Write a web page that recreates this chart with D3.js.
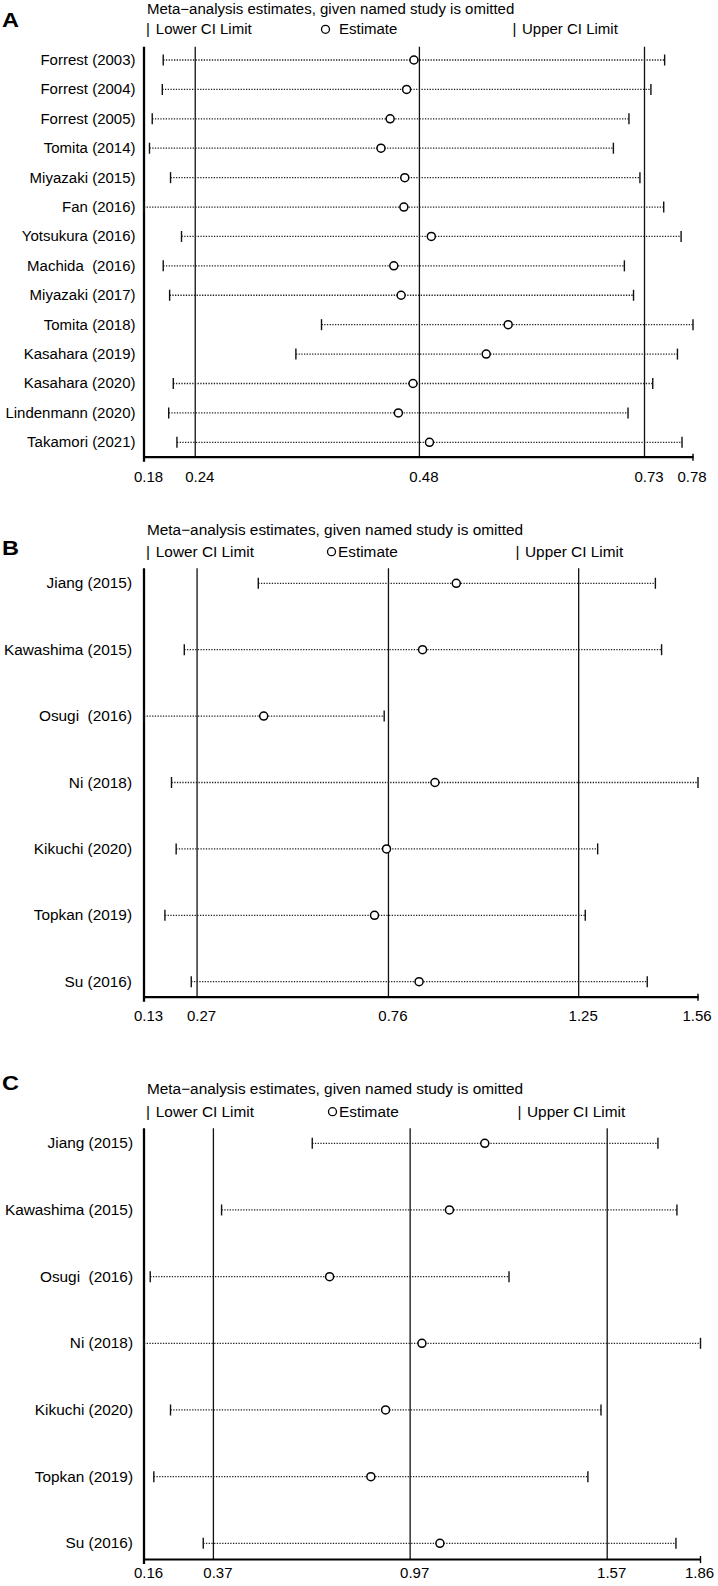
<!DOCTYPE html>
<html>
<head>
<meta charset="utf-8">
<script src="https://cdn.jsdelivr.net/npm/d3@7"></script>
<style>
body { margin: 0; background: #fff; }
text { font-family: "Liberation Sans", Arial, sans-serif; fill: #000; white-space: pre; }
</style>
</head>
<body>
<script>
// ---- data ----
const studiesA = ['Forrest (2003)', 'Forrest (2004)', 'Forrest (2005)', 'Tomita (2014)', 'Miyazaki (2015)',
    'Fan (2016)', 'Yotsukura (2016)', 'Machida  (2016)', 'Miyazaki (2017)', 'Tomita (2018)',
    'Kasahara (2019)', 'Kasahara (2020)', 'Lindenmann (2020)', 'Takamori (2021)'];
const estA   = [0.475, 0.467, 0.449, 0.439, 0.465, 0.464, 0.494, 0.453, 0.461, 0.578, 0.554, 0.474, 0.458, 0.492];
const lowerA = [0.201, 0.200, 0.189, 0.186, 0.209, 0.180, 0.221, 0.201, 0.208, 0.374, 0.346, 0.212, 0.207, 0.216];
const upperA = [0.749, 0.734, 0.710, 0.693, 0.722, 0.748, 0.767, 0.705, 0.715, 0.780, 0.763, 0.736, 0.709, 0.768];
const ticksA = [0.18, 0.236, 0.481, 0.727, 0.78];
const tickLabelsA = ['0.18', '0.24', '0.48', '0.73', '0.78'];

const studiesB = ['Jiang (2015)', 'Kawashima (2015)', 'Osugi  (2016)', 'Ni (2018)', 'Kikuchi (2020)', 'Topkan (2019)', 'Su (2016)'];
const estB   = [0.936, 0.849, 0.439, 0.881, 0.756, 0.725, 0.840];
const lowerB = [0.425, 0.234, 0.130, 0.201, 0.213, 0.184, 0.252];
const upperB = [1.450, 1.466, 0.750, 1.560, 1.301, 1.269, 1.429];
const ticksB = [0.13, 0.267, 0.761, 1.252, 1.56];
const tickLabelsB = ['0.13', '0.27', '0.76', '1.25', '1.56'];

const studiesC = ['Jiang (2015)', 'Kawashima (2015)', 'Osugi  (2016)', 'Ni (2018)', 'Kikuchi (2020)', 'Topkan (2019)', 'Su (2016)'];
const estC   = [1.201, 1.093, 0.727, 1.009, 0.898, 0.853, 1.064];
const lowerC = [0.674, 0.397, 0.179, 0.160, 0.241, 0.190, 0.341];
const upperC = [1.730, 1.788, 1.275, 1.860, 1.556, 1.516, 1.785];
const ticksC = [0.16, 0.372, 0.973, 1.575, 1.86];
const tickLabelsC = ['0.16', '0.37', '0.97', '1.57', '1.86'];

const title = 'Meta\u2212analysis estimates, given named study is omitted';

const width = 718;
const height = 1586;

const svg = d3.select('body')
    .append('svg')
    .attr('width', width)
    .attr('height', height);

// text that is a little wider than the font (the figure was stretched)
const stretchText = (parent, x, y, str, size, sx, anchor, weight) =>
    parent.append('text')
        .attr('transform', `translate(${x},${y}) scale(${sx},1)`)
        .attr('text-anchor', anchor || 'start')
        .style('font-size', size + 'px')
        .style('font-weight', weight || 'normal')
        .text(str);

const drawPanel = (cfg, studies, est, lower, upper, ticks, tickLabels) => {
    const g = svg.append('g');
    const x = d3.scaleLinear().domain([ticks[0], ticks[ticks.length - 1]]).range([144, cfg.right]);
    const y = d3.scalePoint().domain(studies).range([cfg.rowTop, cfg.rowBottom]);

    // panel letter, title, legend
    stretchText(g, 2, cfg.letterY, cfg.letter, 21, 1.12, 'start', 'bold');
    stretchText(g, 147, cfg.titleY, title, cfg.fs, cfg.sx);
    stretchText(g, 146, cfg.legendY, '|', cfg.fs, cfg.sx);
    stretchText(g, 155.8, cfg.legendY, 'Lower CI Limit', cfg.fs, cfg.sx);
    g.append('circle')
        .attr('cx', cfg.oX).attr('cy', cfg.legendY - 5)
        .attr('r', 4).attr('fill', 'none').attr('stroke', '#000').attr('stroke-width', 1.3);
    stretchText(g, cfg.estX, cfg.legendY, 'Estimate', cfg.fs, cfg.sx);
    stretchText(g, cfg.upX - 1.5, cfg.legendY, '|', cfg.fs, cfg.sx);
    stretchText(g, cfg.upX + 8, cfg.legendY, 'Upper CI Limit', cfg.fs, cfg.sx);

    // reference lines at overall lower, estimate, upper
    g.append('g')
        .selectAll('line')
        .data(ticks.slice(1, 4))
        .enter()
        .append('line')
        .attr('x1', d => x(d)).attr('x2', d => x(d))
        .attr('y1', cfg.lineTop).attr('y2', cfg.axisY)
        .attr('stroke', '#111').attr('stroke-width', 1.3);

    // x axis
    const axis = d3.axisBottom(x)
        .tickValues(ticks)
        .tickFormat((d, i) => tickLabels[i])
        .tickSize(0)
        .tickSizeOuter(0);
    const ax = g.append('g')
        .attr('transform', `translate(0,${cfg.axisY})`)
        .call(axis);
    ax.select('.domain').attr('stroke', '#000').attr('stroke-width', 2.2);
    ax.selectAll('text')
        .attr('y', cfg.labelY - cfg.axisY)
        .attr('dy', 0)
        .attr('dx', (d, i) => i === ticks.length - 1 ? -1.5 : 4)
        .style('font-size', '15px');

    // left axis and right end tick
    g.append('line')
        .attr('x1', x(ticks[0])).attr('x2', x(ticks[0]))
        .attr('y1', cfg.lineTop).attr('y2', cfg.axisY + 5)
        .attr('stroke', '#000').attr('stroke-width', 2.3);
    g.append('line')
        .attr('x1', x(ticks[4])).attr('x2', x(ticks[4]))
        .attr('y1', cfg.axisY - 3).attr('y2', cfg.axisY + 4)
        .attr('stroke', '#000').attr('stroke-width', 1.4);

    // rows
    const rows = g.append('g')
        .selectAll('g')
        .data(studies)
        .enter()
        .append('g');

    rows.each(function (d, i) {
        const r = d3.select(this);
        stretchText(r, cfg.labelRight, y(d) + 5, d, cfg.fs, cfg.sx, 'end');
        r.append('line')
            .attr('x1', x(lower[i])).attr('x2', x(upper[i]))
            .attr('y1', y(d)).attr('y2', y(d))
            .attr('stroke', '#222').attr('stroke-width', 1.3)
            .attr('stroke-dasharray', '1.3,1.4');
        r.selectAll('line.bar')
            .data([lower[i], upper[i]])
            .enter()
            .append('line')
            .attr('class', 'bar')
            .attr('x1', v => x(v)).attr('x2', v => x(v))
            .attr('y1', y(d) - 5.5).attr('y2', y(d) + 5.5)
            .attr('stroke', '#111').attr('stroke-width', 1.4);
        r.append('circle')
            .attr('cx', x(est[i])).attr('cy', y(d))
            .attr('r', 4)
            .attr('fill', '#fff').attr('stroke', '#000').attr('stroke-width', 1.5);
    });
};

drawPanel({letter: 'A', right: 693, letterY: 27.3, titleY: 13.5, legendY: 34.3, lineTop: 46.7,
        rowTop: 60, rowBottom: 442.3, axisY: 456.7, labelY: 481.7, fs: 14.5, sx: 1.035,
        labelRight: 135.5, oX: 325.5, estX: 339, upX: 514},
    studiesA, estA, lowerA, upperA, ticksA, tickLabelsA);

drawPanel({letter: 'B', right: 698, letterY: 555, titleY: 535, legendY: 556.7, lineTop: 568.3,
        rowTop: 583.3, rowBottom: 981.7, axisY: 996.7, labelY: 1021, fs: 15, sx: 1.025,
        labelRight: 132, oX: 331.5, estX: 338, upX: 517},
    studiesB, estB, lowerB, upperB, ticksB, tickLabelsB);

drawPanel({letter: 'C', right: 700.5, letterY: 1090, titleY: 1094, legendY: 1116.7, lineTop: 1128.3,
        rowTop: 1143.3, rowBottom: 1543.3, axisY: 1559, labelY: 1578, fs: 15, sx: 1.025,
        labelRight: 133, oX: 332.5, estX: 339, upX: 519},
    studiesC, estC, lowerC, upperC, ticksC, tickLabelsC);
</script>
</body>
</html>
